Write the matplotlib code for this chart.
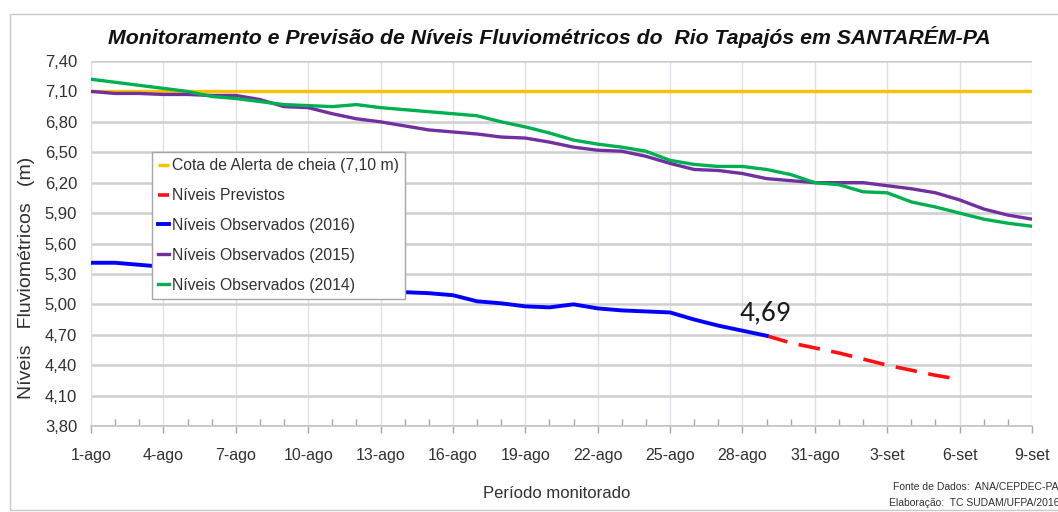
import matplotlib
matplotlib.use("Agg")
import matplotlib.pyplot as plt
from matplotlib.patches import Rectangle

# --- data -----------------------------------------------------------------
# day index 0 = 1-ago ... 39 = 9-set
days = list(range(40))
alert_level = 7.10

obs_2014 = [7.22, 7.19, 7.16, 7.13, 7.10, 7.05, 7.03, 7.00, 6.97, 6.96,
            6.95, 6.97, 6.94, 6.92, 6.90, 6.88, 6.86, 6.80, 6.75, 6.69,
            6.62, 6.58, 6.55, 6.51, 6.42, 6.38, 6.36, 6.36, 6.33, 6.28,
            6.20, 6.18, 6.11, 6.10, 6.01, 5.96, 5.90, 5.84, 5.80, 5.77]

obs_2015 = [7.10, 7.08, 7.08, 7.07, 7.07, 7.06, 7.06, 7.02, 6.95, 6.94,
            6.88, 6.83, 6.80, 6.76, 6.72, 6.70, 6.68, 6.65, 6.64, 6.60,
            6.55, 6.52, 6.51, 6.46, 6.39, 6.33, 6.32, 6.29, 6.24, 6.22,
            6.20, 6.20, 6.20, 6.17, 6.14, 6.10, 6.03, 5.94, 5.88, 5.84]

obs_2016 = [5.41, 5.41, 5.39, 5.37, 5.36, 5.34, 5.31, 5.28, 5.25, 5.22,
            5.19, 5.16, 5.14, 5.12, 5.11, 5.09, 5.03, 5.01, 4.98, 4.97,
            5.00, 4.96, 4.94, 4.93, 4.92, 4.85, 4.79, 4.74, 4.69]

forecast_days = [28, 29, 30, 31, 32, 33, 34, 35, 36]
forecast = [4.69, 4.62, 4.57, 4.52, 4.46, 4.40, 4.35, 4.30, 4.26]

tick_days = [0, 3, 6, 9, 12, 15, 18, 21, 24, 27, 30, 33, 36, 39]
tick_labels = ["1-ago", "4-ago", "7-ago", "10-ago", "13-ago", "16-ago",
               "19-ago", "22-ago", "25-ago", "28-ago", "31-ago", "3-set",
               "6-set", "9-set"]
y_ticks = [3.80, 4.10, 4.40, 4.70, 5.00, 5.30, 5.60, 5.90, 6.20, 6.50,
           6.80, 7.10, 7.40]

legend_labels = ["Cota de Alerta de cheia (7,10 m)", "Níveis Previstos",
                 "Níveis Observados (2016)", "Níveis Observados (2015)",
                 "Níveis Observados (2014)"]

# --- style ----------------------------------------------------------------
plt.rcParams["font.family"] = ["Liberation Sans", "DejaVu Sans"]

W, H = 1058, 512
fig = plt.figure(figsize=(W / 100, H / 100), dpi=100)
fig.patch.set_facecolor("white")

# outer chart border
fig.add_artist(Rectangle((10 / W, 2 / H), 1.2, (H - 16) / H,
                         transform=fig.transFigure, fill=False,
                         edgecolor="#c8c8c8", linewidth=1.0))

ax = fig.add_axes([91 / W, 1 - 426 / H, 941 / W, 365 / H])

ax.plot(days, [alert_level] * len(days), color="#FFC000", lw=2.4,
        solid_capstyle="butt", label=legend_labels[0], zorder=3)
ax.plot(forecast_days, forecast, color="#FF1010", lw=2.6,
        dashes=(6, 3.2), label=legend_labels[1], zorder=4)
ax.plot(days[:len(obs_2016)], obs_2016, color="#0000FF", lw=2.8,
        label=legend_labels[2], zorder=5)
ax.plot(days, obs_2015, color="#7030A0", lw=2.4,
        label=legend_labels[3], zorder=6)
ax.plot(days, obs_2014, color="#00B050", lw=2.4,
        label=legend_labels[4], zorder=7)

ax.text(forecast_days[0] - 0.05, forecast[0] + 0.10,
        f"{forecast[0]:.2f}".replace(".", ","),
        fontsize=21, color="#1a1a1a", ha="center", va="bottom",
        family=["Carlito", "Lato", "DejaVu Sans"], zorder=8)

ax.set_xlim(0, 39)
ax.set_ylim(3.80, 7.40)

ax.set_xticks(tick_days)
ax.set_xticklabels(tick_labels)
ax.set_xticks(days, minor=True)
ax.set_yticks(y_ticks)
ax.set_yticklabels([f"{v:.2f}".replace(".", ",") for v in y_ticks])

ax.tick_params(axis="x", which="major", direction="out", length=5,
               width=1, color="#a8a8a8", labelsize=11.5,
               labelcolor="#303030", pad=11)
ax.tick_params(axis="x", which="minor", direction="in", length=5,
               width=1, color="#a8a8a8")
ax.tick_params(axis="y", which="major", length=0, labelsize=12,
               labelcolor="#303030", pad=10)

ax.grid(axis="y", color="#cfcfcf", lw=1.8, zorder=0)
ax.grid(axis="x", which="major", color="#e2dde6", lw=1.0, zorder=0)
ax.set_axisbelow(True)
for side in ("top", "right"):
    ax.spines[side].set_visible(False)
ax.spines["left"].set_color("#e2dde6")
ax.spines["left"].set_linewidth(1.0)
ax.spines["bottom"].set_color("#c4c4c4")
ax.spines["bottom"].set_linewidth(1.2)

leg = ax.legend(loc="upper left", bbox_to_anchor=(0.065, 0.751),
                borderaxespad=0, frameon=True, fancybox=False,
                framealpha=1, edgecolor="#a6a6a6", fontsize=11.3,
                handlelength=0.7, handletextpad=0.15, labelspacing=0.95,
                borderpad=0.4)
leg.get_frame().set_linewidth(1.0)
leg.set_zorder(10)
for t in leg.get_texts():
    t.set_color("#303030")

fig.text(549 / W, 1 - 37 / H,
         "Monitoramento e Previsão de Níveis Fluviométricos do  Rio Tapajós em SANTARÉM-PA",
         ha="center", va="center", fontsize=15.3, fontweight="bold",
         fontstyle="italic", color="#111111")

fig.text(27 / W, 1 - 278 / H, "Níveis   Fluviométricos   (m)", rotation=90,
         ha="center", va="center", fontsize=14, color="#303030")

fig.text(557 / W, 1 - 493 / H, "Período monitorado", ha="center",
         va="center", fontsize=12, color="#303030")

fig.text(893 / W, 1 - 487 / H, "Fonte de Dados:  ANA/CEPDEC-PA",
         ha="left", va="center", fontsize=7.5, color="#303030")
fig.text(889 / W, 1 - 503 / H, "Elaboração:  TC SUDAM/UFPA/2016",
         ha="left", va="center", fontsize=7.5, color="#303030")

fig.savefig("out.png", dpi=100, facecolor="white")
